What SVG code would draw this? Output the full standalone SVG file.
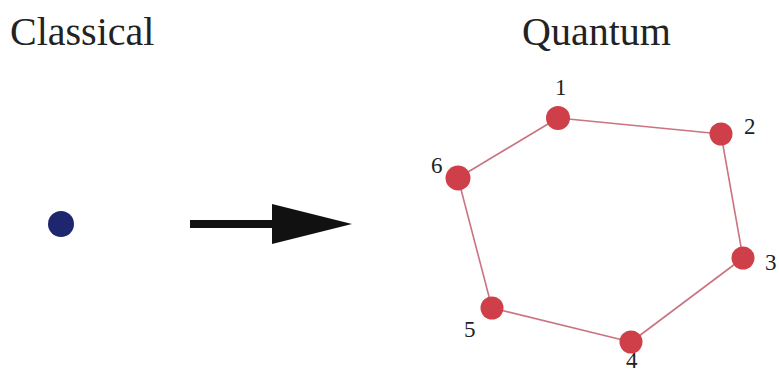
<svg xmlns="http://www.w3.org/2000/svg" width="779" height="374" viewBox="0 0 779 374">
<style>
.title{font-family:"Liberation Serif",serif;font-size:40px;fill:#222}
.lbl{font-family:"Liberation Serif",serif;font-size:23px;fill:#222}
.node{fill:#cf3f49}
.edge{stroke:#c97480;stroke-width:1.6;fill:none}
</style>
<rect width="779" height="374" fill="#ffffff"/>
<text class="title" x="10" y="45">Classical</text>
<text class="title" x="522" y="45">Quantum</text>
<g id="classical-particle"><circle cx="61" cy="224" r="13" fill="#1e2670"/></g>
<g id="arrow">
<rect x="190" y="220" width="84" height="8" fill="#111"/>
<polygon points="272,204 352,224 272,244" fill="#111"/>
</g>
<g id="connectors">
<line class="edge" x1="558" y1="118" x2="721" y2="134"/>
<line class="edge" x1="721" y1="134" x2="743" y2="258"/>
<line class="edge" x1="743" y1="258" x2="631" y2="342"/>
<line class="edge" x1="631" y1="342" x2="492" y2="308"/>
<line class="edge" x1="492" y1="308" x2="458" y2="178"/>
<line class="edge" x1="458" y1="178" x2="558" y2="118"/>
</g>
<g id="n1"><circle class="node" cx="558" cy="118" r="12"/><text class="lbl" x="555" y="95">1</text></g>
<g id="n2"><circle class="node" cx="721" cy="134" r="11.5"/><text class="lbl" x="744" y="134">2</text></g>
<g id="n3"><circle class="node" cx="743" cy="258" r="11.5"/><text class="lbl" x="765" y="270">3</text></g>
<g id="n4"><circle class="node" cx="631" cy="342" r="11.5"/><text class="lbl" x="626" y="368">4</text></g>
<g id="n5"><circle class="node" cx="492" cy="308" r="11.5"/><text class="lbl" x="464" y="337">5</text></g>
<g id="n6"><circle class="node" cx="458" cy="178" r="12.5"/><text class="lbl" x="431" y="173">6</text></g>
</svg>
